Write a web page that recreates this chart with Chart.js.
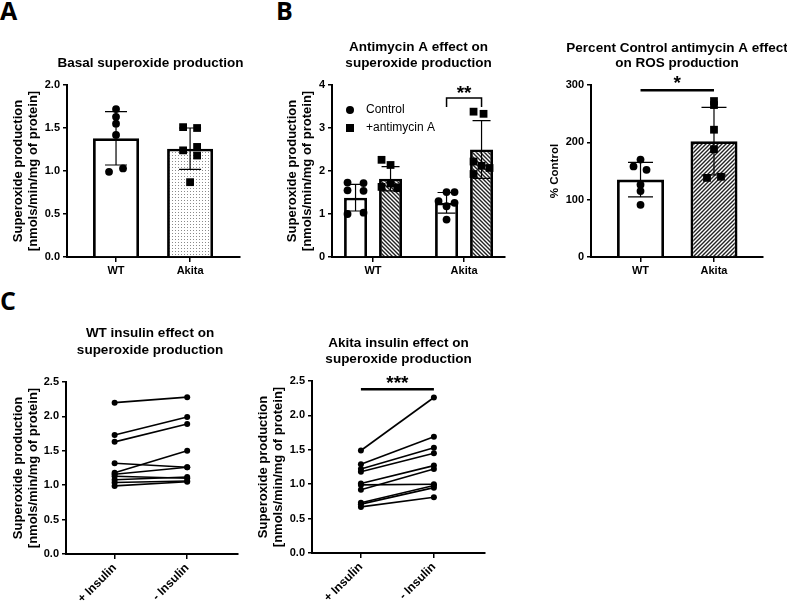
<!DOCTYPE html>
<html>
<head>
<meta charset="utf-8">
<script src="https://cdn.jsdelivr.net/npm/chart.js@4.4.0/dist/chart.umd.min.js"></script>
<style>
  html, body { margin: 0; padding: 0; background: #fff; }
  body { position: relative; width: 787px; height: 605px; overflow: hidden; }
  canvas { position: absolute; }
  .lbl { position: absolute; font: bold 25px "Open Sans", "Liberation Sans", sans-serif; color: #000; line-height: 1; }
</style>
</head>
<body>
<div class="lbl" style="left:0px;top:-2px">A</div>
<div class="lbl" style="left:276px;top:-2px">B</div>
<div class="lbl" style="left:0px;top:288px">C</div>
<canvas id="chartA"></canvas>
<canvas id="chartB"></canvas>
<canvas id="chartB2"></canvas>
<canvas id="chartC1"></canvas>
<canvas id="chartC2"></canvas>
<script>
// ---- data ----
const groups = ['WT', 'Akita'];
const insulinLabels = ['+ Insulin', '- Insulin'];

// A: basal superoxide production
const basalWT = [1.72, 1.63, 1.55, 1.42, 0.99, 1.03];
const basalAkita = [1.51, 1.50, 1.28, 1.24, 1.18, 0.87];
const basalMean = [1.38, 1.26];
const basalSD = [0.31, 0.24];

// B: antimycin A effect
const ctrlWT = [1.73, 1.72, 1.55, 1.54, 1.00, 1.03];
const ctrlAkita = [1.51, 1.51, 1.30, 1.26, 1.18, 0.87];
const antiWT = [2.26, 2.14, 1.71, 1.63, 1.62, 1.60];
const antiAkita = [3.38, 3.33, 2.22, 2.12, 2.07, 1.93];
const ctrlMean = [1.38, 1.26];
const ctrlSD = [0.31, 0.24];
const antiMean = [1.82, 2.50];
const antiSD = [0.28, 0.67];

// B right: percent control
const pctWT = [170, 158, 152, 126, 115, 91];
const pctAkita = [272, 265, 222, 188, 138, 140];
const pctMean = [135, 202];
const pctSD = [30, 59];

// C: insulin, paired values (+ insulin -> - insulin)
const wtPlus = [2.20, 1.73, 1.63, 1.32, 1.18, 1.16, 1.13, 1.08, 1.04, 0.99];
const wtMinus = [2.28, 1.99, 1.89, 1.26, 1.50, 1.26, 1.10, 1.12, 1.06, 1.05];
const akPlus = [1.49, 1.29, 1.22, 1.18, 1.01, 0.99, 0.92, 0.73, 0.71, 0.67];
const akMinus = [2.26, 1.69, 1.53, 1.45, 1.27, 1.00, 1.22, 0.98, 0.95, 0.81];

// ---- look ----
Chart.defaults.font.family = '"Liberation Sans", Arial, sans-serif';
Chart.defaults.font.weight = 'bold';
Chart.defaults.color = '#000';

const yTitle = ['Superoxide production', '[nmols/min/mg of protein]'];

function pattern(kind) {
  const c = document.createElement('canvas');
  const n = kind === 'dots' ? 3 : 4;
  c.width = n; c.height = n;
  const g = c.getContext('2d');
  g.fillStyle = '#fff';
  g.fillRect(0, 0, n, n);
  if (kind === 'dots') {
    g.fillStyle = '#8a8a8a';
    g.fillRect(1, 1, 1, 1);
  } else {
    g.strokeStyle = '#222';
    g.lineWidth = 1.4;
    g.beginPath();
    if (kind === 'back') {
      g.moveTo(-1, -1); g.lineTo(n + 1, n + 1);
      g.moveTo(-1, n - 1); g.lineTo(1, n + 1);
      g.moveTo(n - 1, -1); g.lineTo(n + 1, 1);
    } else {
      g.moveTo(-1, n + 1); g.lineTo(n + 1, -1);
      g.moveTo(-1, 1); g.lineTo(1, -1);
      g.moveTo(n - 1, n + 1); g.lineTo(n + 1, n - 1);
    }
    g.stroke();
  }
  return g.createPattern(c, 'repeat');
}

// scatter points with horizontal jitter given in pixels
function pts(center, vals, offPx, ppu) {
  return vals.map((v, i) => ({ x: center + offPx[i] / ppu, y: v }));
}

const decor = {
  id: 'decor',
  afterDatasetDraw(chart, args, opts) {
    const ctx = chart.ctx, xs = chart.scales.x, ys = chart.scales.y;
    (opts.errors || []).filter(e => e.ds === args.index).forEach(e => {
      const px = xs.getPixelForValue(e.x);
      const hi = ys.getPixelForValue(e.mean + e.sd), lo = ys.getPixelForValue(e.mean - e.sd);
      ctx.save();
      ctx.strokeStyle = '#000';
      ctx.lineWidth = 1.2;
      ctx.beginPath();
      ctx.moveTo(px, lo); ctx.lineTo(px, hi);
      ctx.moveTo(px - e.cap / 2, hi); ctx.lineTo(px + e.cap / 2, hi);
      ctx.moveTo(px - e.cap / 2, lo); ctx.lineTo(px + e.cap / 2, lo);
      ctx.stroke();
      ctx.restore();
    });
  },
  afterDraw(chart, args, opts) {
    const ctx = chart.ctx, a = chart.chartArea, xs = chart.scales.x, ys = chart.scales.y;
    ctx.save();
    ctx.fillStyle = '#000';
    ctx.strokeStyle = '#000';
    if (opts.title) {
      ctx.font = 'bold 13.5px "Liberation Sans", Arial, sans-serif';
      ctx.textAlign = 'center';
      ctx.textBaseline = 'middle';
      const cx = (a.left + a.right) / 2 + (opts.title.dx || 0);
      opts.title.lines.forEach((t, i) => ctx.fillText(t, cx, opts.title.y[i]));
    }
    if (opts.sig) {
      const s = opts.sig;
      const x1 = xs.getPixelForValue(s.x1), x2 = xs.getPixelForValue(s.x2), y = ys.getPixelForValue(s.y);
      ctx.lineWidth = s.lw;
      ctx.beginPath();
      if (s.drop != null) {
        const yd = ys.getPixelForValue(s.drop);
        ctx.moveTo(x1, yd); ctx.lineTo(x1, y); ctx.lineTo(x2, y); ctx.lineTo(x2, yd);
      } else {
        ctx.moveTo(x1, y); ctx.lineTo(x2, y);
      }
      ctx.stroke();
      ctx.font = 'bold 19px "Liberation Sans", Arial, sans-serif';
      ctx.textAlign = 'center';
      ctx.textBaseline = 'middle';
      ctx.fillText(s.text, (x1 + x2) / 2, ys.getPixelForValue(s.textY));
    }
    if (opts.legend) {
      const L = opts.legend;
      ctx.font = '12px "Liberation Sans", Arial, sans-serif';
      ctx.textAlign = 'left';
      ctx.textBaseline = 'middle';
      L.items.forEach((it, i) => {
        const mx = a.left + L.x, my = a.top + L.y + i * L.dy;
        if (it.style === 'circle') {
          ctx.beginPath(); ctx.arc(mx, my, 4, 0, Math.PI * 2); ctx.fill();
        } else {
          ctx.fillRect(mx - 4, my - 4, 8, 8);
        }
        ctx.fillText(it.label, a.left + L.tx, my);
      });
    }
    ctx.restore();
  }
};

function yAxis(max, step, dec, title, tsize, width) {
  return {
    min: 0, max: max,
    ticks: { stepSize: step, font: { size: 11, weight: 'bold' }, padding: 3, callback: v => v.toFixed(dec) },
    grid: { drawOnChartArea: false, color: '#000', lineWidth: 1.5, tickLength: 4 },
    border: { color: '#000', width: 2 },
    title: { display: true, text: title, font: { size: tsize, weight: 'bold', lineHeight: 1.22 }, padding: { top: 4, bottom: 4 } },
    afterFit: s => { s.width = width; }
  };
}

function xAxis(min, max, labels, rot, height) {
  return {
    type: 'linear', min: min, max: max, offset: false,
    afterBuildTicks: s => { s.ticks = [{ value: 0 }, { value: 1 }]; },
    ticks: { font: { size: rot ? 12 : 11, weight: 'bold' }, padding: 2, autoSkip: false, minRotation: rot, maxRotation: rot, callback: v => labels[v] },
    grid: { drawOnChartArea: false, offset: false, color: '#000', lineWidth: 1.5, tickLength: 5 },
    border: { color: '#000', width: 2 },
    afterFit: s => { s.height = height; }
  };
}

function place(id, box, area, yW, xH) {
  const cv = document.getElementById(id);
  cv.width = box.w; cv.height = box.h;
  cv.style.left = box.x + 'px'; cv.style.top = box.y + 'px';
  cv.style.width = box.w + 'px'; cv.style.height = box.h + 'px';
  return {
    cv: cv,
    padding: {
      left: area.l - box.x - yW,
      top: area.t - box.y,
      right: box.x + box.w - area.r,
      bottom: box.y + box.h - area.b - xH
    }
  };
}

function baseOptions(padding, x, y, decorOpts) {
  return {
    responsive: false, animation: false, devicePixelRatio: 1,
    layout: { padding: padding },
    scales: { x: x, y: y },
    plugins: { legend: { display: false }, tooltip: { enabled: false }, decor: decorOpts }
  };
}

const white = '#ffffff';

// ---- A ----
(function () {
  const p = place('chartA', { x: 0, y: 40, w: 250, h: 250 }, { l: 67, t: 85, r: 240, b: 257 }, 61, 28);
  const ppu = 173 / 2.336;
  new Chart(p.cv, {
    type: 'bar',
    data: {
      datasets: [
        { type: 'scatter', data: pts(0, basalWT, [0, 0, 0, 0, -7, 7], ppu), pointStyle: 'circle', pointRadius: 3.9, backgroundColor: '#000', borderWidth: 0, order: 0 },
        { type: 'scatter', data: pts(1, basalAkita, [-7, 7, 7, -7, 7, 0], ppu), pointStyle: 'rect', pointRadius: 5.5, backgroundColor: '#000', borderWidth: 0, order: 0 },
        { type: 'bar', data: basalMean.map((m, i) => ({ x: i, y: m })), backgroundColor: [white, pattern('dots')], borderColor: '#000', borderWidth: 2.8, maxBarThickness: 46, grouped: false, order: 1 }
      ]
    },
    options: baseOptions(p.padding, xAxis(-0.662, 1.674, groups, 0, 28), yAxis(2, 0.5, 1, yTitle, 13, 61), {
      title: { lines: ['Basal superoxide production'], y: [23], dx: -3 },
      errors: basalMean.map((m, i) => ({ ds: 2, x: i, mean: m, sd: basalSD[i], cap: 22 }))
    }),
    plugins: [decor]
  });
})();

// ---- B ----
(function () {
  const p = place('chartB', { x: 250, y: 30, w: 265, h: 260 }, { l: 332, t: 85, r: 505, b: 257 }, 52, 28);
  const ppu = 91;
  const sh = 17.5 / ppu;
  new Chart(p.cv, {
    type: 'bar',
    data: {
      datasets: [
        { type: 'scatter', data: pts(-sh, ctrlWT, [-8, 8, -8, 8, -8, 8], ppu).concat(pts(1 - sh, ctrlAkita, [0, 8, -8, 8, 0, 0], ppu)), pointStyle: 'circle', pointRadius: 3.9, backgroundColor: '#000', borderWidth: 0, order: 0 },
        { type: 'scatter', data: pts(sh, antiWT, [-9, 0, 0, -9, 7, 7], ppu).concat(pts(1 + sh, antiAkita, [-8, 2, -8, 0, 8, -8], ppu)), pointStyle: 'rect', pointRadius: 5.5, backgroundColor: '#000', borderWidth: 0, order: 0 },
        { type: 'bar', data: ctrlMean.map((m, i) => ({ x: i - sh, y: m })), backgroundColor: white, borderColor: '#000', borderWidth: 2.8, maxBarThickness: 23, grouped: false, order: 1 },
        { type: 'bar', data: antiMean.map((m, i) => ({ x: i + sh, y: m })), backgroundColor: pattern('back'), borderColor: '#000', borderWidth: 2.8, maxBarThickness: 23, grouped: false, order: 1 }
      ]
    },
    options: baseOptions(p.padding, xAxis(-0.451, 1.45, groups, 0, 28), yAxis(4, 1, 0, yTitle, 13, 52), {
      title: { lines: ['Antimycin A effect on', 'superoxide production'], y: [17, 33] },
      errors: ctrlMean.map((m, i) => ({ ds: 2, x: i - sh, mean: m, sd: ctrlSD[i], cap: 18 }))
        .concat(antiMean.map((m, i) => ({ ds: 3, x: i + sh, mean: m, sd: antiSD[i], cap: 18 }))),
      sig: { x1: 1 - sh, x2: 1 + sh, y: 3.70, drop: 3.49, text: '**', textY: 3.80, lw: 1.5 },
      legend: { items: [{ style: 'circle', label: 'Control' }, { style: 'rect', label: '+antimycin A' }], x: 18, tx: 34, y: 25, dy: 18 }
    }),
    plugins: [decor]
  });
})();

// ---- B right ----
(function () {
  const p = place('chartB2', { x: 520, y: 30, w: 267, h: 260 }, { l: 591, t: 85, r: 763, b: 257 }, 47, 28);
  const ppu = 172 / 2.341;
  new Chart(p.cv, {
    type: 'bar',
    data: {
      datasets: [
        { type: 'scatter', data: pts(0, pctWT, [0, -7, 6, 0, 0, 0], ppu), pointStyle: 'circle', pointRadius: 3.9, backgroundColor: '#000', borderWidth: 0, order: 0 },
        { type: 'scatter', data: pts(1, pctAkita, [0, 0, 0, 0, -7, 7], ppu), pointStyle: 'rect', pointRadius: 5.5, backgroundColor: '#000', borderWidth: 0, order: 0 },
        { type: 'bar', data: pctMean.map((m, i) => ({ x: i, y: m })), backgroundColor: [white, pattern('fwd')], borderColor: '#000', borderWidth: 2.8, maxBarThickness: 47, grouped: false, order: 1 }
      ]
    },
    options: baseOptions(p.padding, xAxis(-0.674, 1.667, groups, 0, 28), yAxis(300, 100, 0, '% Control', 11.5, 47), {
      title: { lines: ['Percent Control antimycin A effect', 'on ROS production'], y: [18, 33] },
      errors: pctMean.map((m, i) => ({ ds: 2, x: i, mean: m, sd: pctSD[i], cap: 25 })),
      sig: { x1: 0, x2: 1, y: 291, drop: null, text: '*', textY: 302, lw: 2.5 }
    }),
    plugins: [decor]
  });
})();

// ---- C ----
function pairedChart(id, box, area, yW, plus, minus, decorOpts) {
  const p = place(id, box, area, yW, 50);
  new Chart(p.cv, {
    type: 'line',
    data: {
      datasets: plus.map((v, i) => ({
        data: [{ x: 0, y: v }, { x: 1, y: minus[i] }],
        borderColor: '#000', borderWidth: 1.6, backgroundColor: '#000',
        pointRadius: 3, pointBackgroundColor: '#000', pointBorderWidth: 0
      }))
    },
    options: baseOptions(p.padding, xAxis(-0.67, 1.70, insulinLabels, 45, 50), yAxis(2.5, 0.5, 1, yTitle, 13, yW), decorOpts),
    plugins: [decor]
  });
}

pairedChart('chartC1', { x: 0, y: 320, w: 245, h: 285 }, { l: 66, t: 382, r: 238, b: 554 }, 60, wtPlus, wtMinus, {
  title: { lines: ['WT insulin effect on', 'superoxide production'], y: [13, 30], dx: -2 }
});
pairedChart('chartC2', { x: 245, y: 320, w: 245, h: 285 }, { l: 312, t: 381, r: 485, b: 553 }, 61, akPlus, akMinus, {
  title: { lines: ['Akita insulin effect on', 'superoxide production'], y: [23, 39] },
  sig: { x1: 0, x2: 1, y: 2.38, drop: null, text: '***', textY: 2.46, lw: 2.5 }
});
</script>
</body>
</html>
